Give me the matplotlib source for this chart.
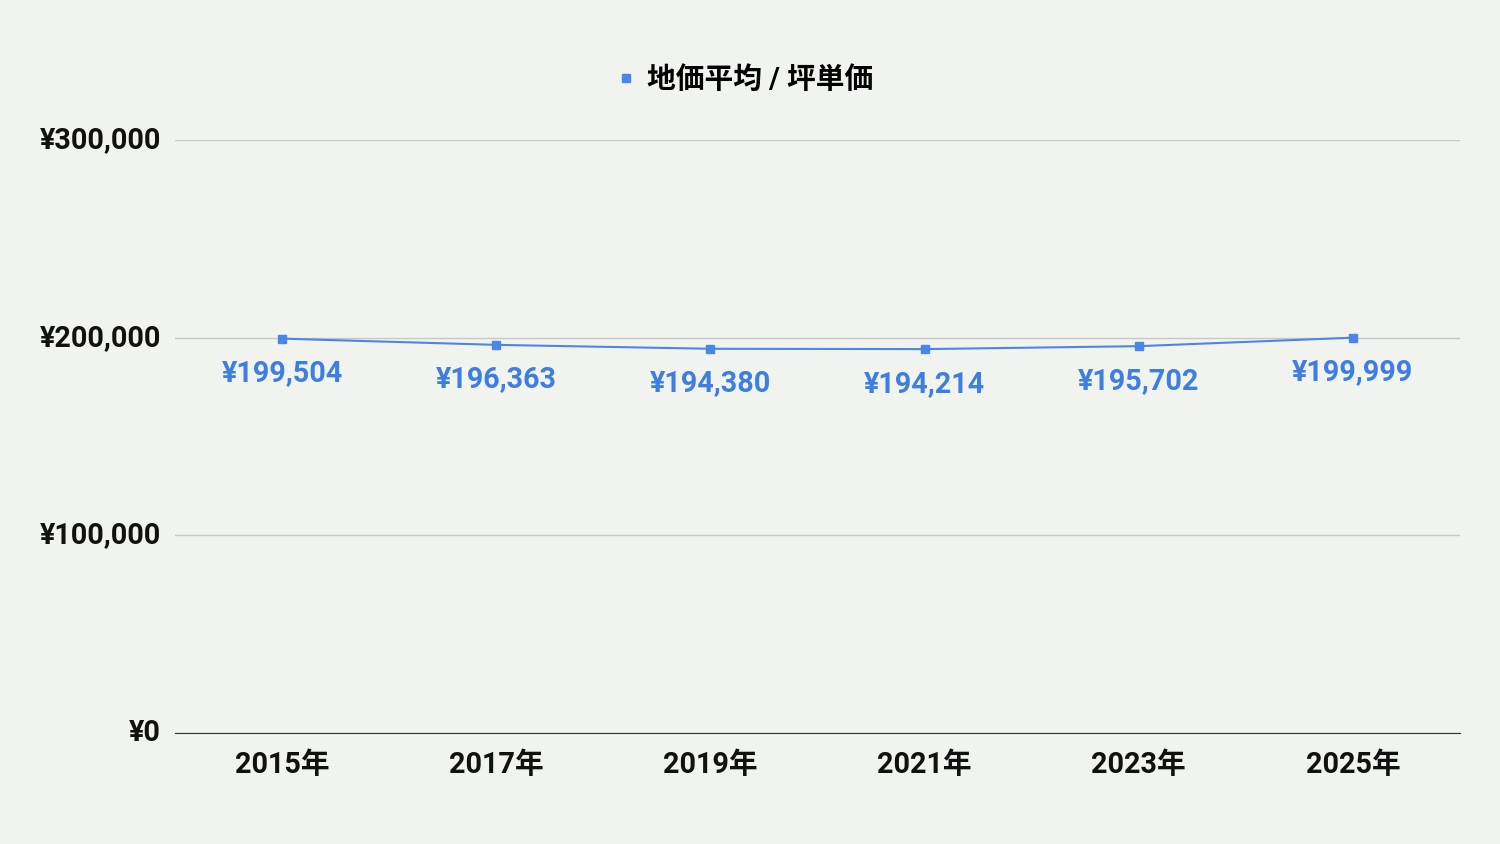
import matplotlib
matplotlib.use("Agg")
import matplotlib.pyplot as plt
from matplotlib.ticker import FuncFormatter

plt.rcParams["font.family"] = ["Roboto", "Noto Sans CJK JP", "DejaVu Sans"]

years = ["2015年", "2017年", "2019年", "2021年", "2023年", "2025年"]
prices = [199504, 196363, 194380, 194214, 195702, 199999]
series_name = "地価平均 / 坪単価"

BG = "#f1f3ee"
BLUE = "#4a86e8"
LABEL_BLUE = "#3d7ee0"

fig = plt.figure(figsize=(15, 8.44), dpi=100, facecolor=BG)
ax = fig.add_axes([175 / 1500, 1 - 733 / 844, 1285 / 1500, 593 / 844])
ax.set_facecolor(BG)

x = list(range(len(years)))
ax.plot(x, prices, color=BLUE, linewidth=1.5, marker="s", markersize=6,
        zorder=3, label=series_name)
for xi, v in zip(x, prices):
    ax.annotate(f"¥{v:,}", (xi, v), xytext=(0, -25), textcoords="offset points",
                ha="center", va="center", fontsize=20.7, fontweight="bold",
                color=LABEL_BLUE)

ax.set_xlim(-0.5, len(years) - 0.5)
ax.set_ylim(0, 300000)
ax.set_yticks([0, 100000, 200000, 300000])
ax.yaxis.set_major_formatter(FuncFormatter(lambda v, p: f"¥{int(v):,}"))
ax.set_xticks(x)
ax.set_xticklabels(years)
ax.grid(axis="y", color="#c8c8c8", linewidth=1)
ax.set_axisbelow(True)
for s in ["top", "right", "left"]:
    ax.spines[s].set_visible(False)
ax.spines["bottom"].set_color("#333333")
ax.tick_params(axis="both", length=0, labelsize=20.7, colors="#111111")
ax.tick_params(axis="y", pad=10)
ax.tick_params(axis="x", pad=13)
for t in ax.get_xticklabels():
    t.set_fontweight("bold")
for t in ax.get_yticklabels():
    t.set_fontweight("bold")
    t.set_verticalalignment("center")

leg = fig.legend(loc="center", bbox_to_anchor=(0.4973, 1 - 80 / 844), frameon=False,
                 handlelength=0.5, handletextpad=0.5,
                 prop={"size": 20.7, "weight": "bold"})
for h in leg.legend_handles:
    h.set_linestyle("none")
    h.set_markersize(6)

fig.savefig("out.png", dpi=100, facecolor=BG)
